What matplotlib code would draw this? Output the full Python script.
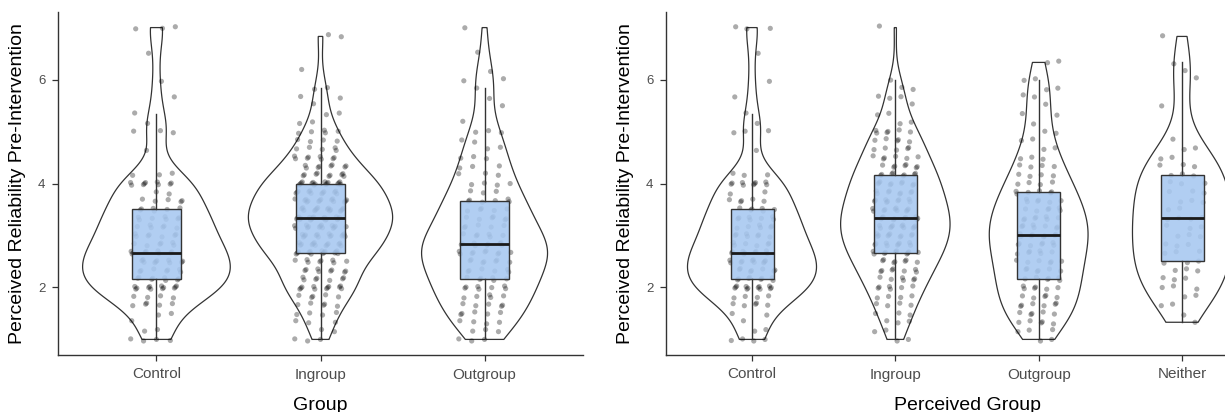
import numpy as np
import matplotlib
matplotlib.use("Agg")
import matplotlib.pyplot as plt

plt.rcParams["font.family"] = ["Liberation Sans", "DejaVu Sans"]

# response levels (mean of items) and how many participants sit on each
LEVELS = [1.0, 1.17, 1.33, 1.5, 1.67, 1.83, 2.0, 2.17, 2.33, 2.5, 2.67, 2.83,
          3.0, 3.17, 3.33, 3.5, 3.67, 3.83, 4.0, 4.17, 4.33, 4.5, 4.67, 4.83,
          5.0, 5.17, 5.33, 5.5, 5.67, 5.83, 6.0, 6.17, 6.33, 6.5, 6.67, 6.83, 7.0]

control = [4, 2, 1, 2, 5, 4, 12, 8, 7, 10, 9, 6, 7, 6, 7, 6, 5, 2,
           9, 3, 0, 0, 1, 0, 3, 1, 1, 0, 1, 0, 1, 0, 0, 1, 0, 0, 3]
ingroup_g = [3, 2, 3, 4, 5, 5, 11, 7, 8, 8, 14, 13, 14, 14, 18, 15, 14, 12,
             16, 9, 8, 8, 5, 4, 5, 2, 2, 1, 2, 2, 0, 1, 0, 0, 0, 2, 0]
outgroup_g = [3, 3, 4, 5, 5, 5, 7, 6, 6, 7, 9, 9, 6, 5, 6, 5, 6, 3,
              4, 3, 3, 3, 2, 2, 3, 1, 0, 1, 1, 1, 2, 1, 0, 1, 0, 0, 1]
ingroup_p = [2, 2, 3, 3, 4, 4, 6, 6, 7, 7, 10, 9, 10, 11, 10, 10, 9, 8,
             9, 8, 7, 6, 5, 5, 6, 2, 2, 1, 3, 2, 1, 0, 0, 0, 0, 0, 1]
outgroup_p = [2, 3, 5, 5, 6, 5, 6, 6, 6, 6, 6, 7, 8, 7, 7, 6, 6, 6,
              4, 4, 4, 3, 2, 2, 2, 1, 2, 1, 2, 2, 2, 0, 2, 0, 0, 0, 0]
neither_p = [0, 0, 1, 1, 2, 2, 3, 3, 3, 3, 3, 3, 3, 3, 4, 2, 3, 3,
             3, 3, 3, 2, 2, 1, 0, 0, 0, 1, 0, 0, 1, 1, 1, 0, 0, 1, 0]

groups_left = ["Control", "Ingroup", "Outgroup"]
counts_left = [control, ingroup_g, outgroup_g]
groups_right = ["Control", "Ingroup", "Outgroup", "Neither"]
counts_right = [control, ingroup_p, outgroup_p, neither_p]

Y_LABEL = "Perceived Reliability Pre-Intervention"
BOX_FILL = (0.655, 0.784, 0.945, 0.88)
LINE = "#333333"


def nrd0(v):
    q1, q3 = np.percentile(v, [25, 75])
    lo = min(np.std(v, ddof=1), (q3 - q1) / 1.34)
    return 0.9 * lo * len(v) ** -0.2


def density(v):
    grid = np.linspace(v.min(), v.max(), 512)
    bw = nrd0(v)
    d = np.exp(-0.5 * ((grid[:, None] - v[None, :]) / bw) ** 2).sum(axis=1)
    d /= len(v) * bw * np.sqrt(2 * np.pi)
    return grid, d


def panel(ax, names, counts, offset):
    data = [np.repeat(LEVELS, c) for c in counts]
    dens = [density(v) for v in data]
    peak = max(d.max() for _, d in dens)
    pos = np.arange(1, len(names) + 1)

    for p, (grid, d) in zip(pos, dens):
        half = 0.45 * d / peak
        xs = np.concatenate([p + half, (p - half)[::-1]])
        ys = np.concatenate([grid, grid[::-1]])
        ax.fill(xs, ys, facecolor="white", edgecolor=LINE, lw=0.9, zorder=1)

    for p, v in zip(pos, data):
        i = np.arange(len(v)) + offset
        jx = ((0.5 + i * 0.7548776662) % 1 - 0.5) * 0.32
        jy = ((0.5 + i * 0.5698402910) % 1 - 0.5) * 0.07
        ax.scatter(p + jx, v + jy, s=14, color="black", alpha=0.33,
                   edgecolors="none", zorder=2)

    ax.boxplot(data, positions=pos, widths=0.3, patch_artist=True,
               showfliers=False, showcaps=False, whis=1.5, zorder=3,
               boxprops=dict(facecolor=BOX_FILL, edgecolor=LINE, lw=1.0),
               whiskerprops=dict(color=LINE, lw=1.0),
               medianprops=dict(color="#1a1a1a", lw=2.0))

    ax.set_xlim(0.4, len(names) + 0.6)
    ax.set_ylim(0.7, 7.3)
    ax.set_xticks(pos)
    ax.set_xticklabels(names, fontsize=11, color="#4d4d4d")
    ax.set_yticks([2, 4, 6])
    ax.set_yticklabels(["2", "4", "6"], fontsize=9.5, color="#4d4d4d")
    ax.tick_params(length=4, width=0.9, color=LINE, pad=5)
    for s in ["top", "right"]:
        ax.spines[s].set_visible(False)
    for s in ["left", "bottom"]:
        ax.spines[s].set_color(LINE)
        ax.spines[s].set_linewidth(1.0)


fig = plt.figure(figsize=(12.25, 4.12), dpi=100)
ax1 = fig.add_axes([58 / 1225, 57 / 412, 525 / 1225, 343 / 412])
ax2 = fig.add_axes([666 / 1225, 57 / 412, 602 / 1225, 343 / 412])

panel(ax1, groups_left, counts_left, 0)
panel(ax2, groups_right, counts_right, 7)

fig.text(18 / 1225, 1 - 183.5 / 412, Y_LABEL, rotation=90, ha="center",
         va="center", fontsize=14)
fig.text(625 / 1225, 1 - 183.5 / 412, Y_LABEL, rotation=90, ha="center",
         va="center", fontsize=14)
fig.text(320.5 / 1225, 1 - 410 / 412, "Group", ha="center", va="baseline",
         fontsize=14)
fig.text(967 / 1225, 1 - 410 / 412, "Perceived Group", ha="center",
         va="baseline", fontsize=14)

fig.savefig("out.png", dpi=100)
